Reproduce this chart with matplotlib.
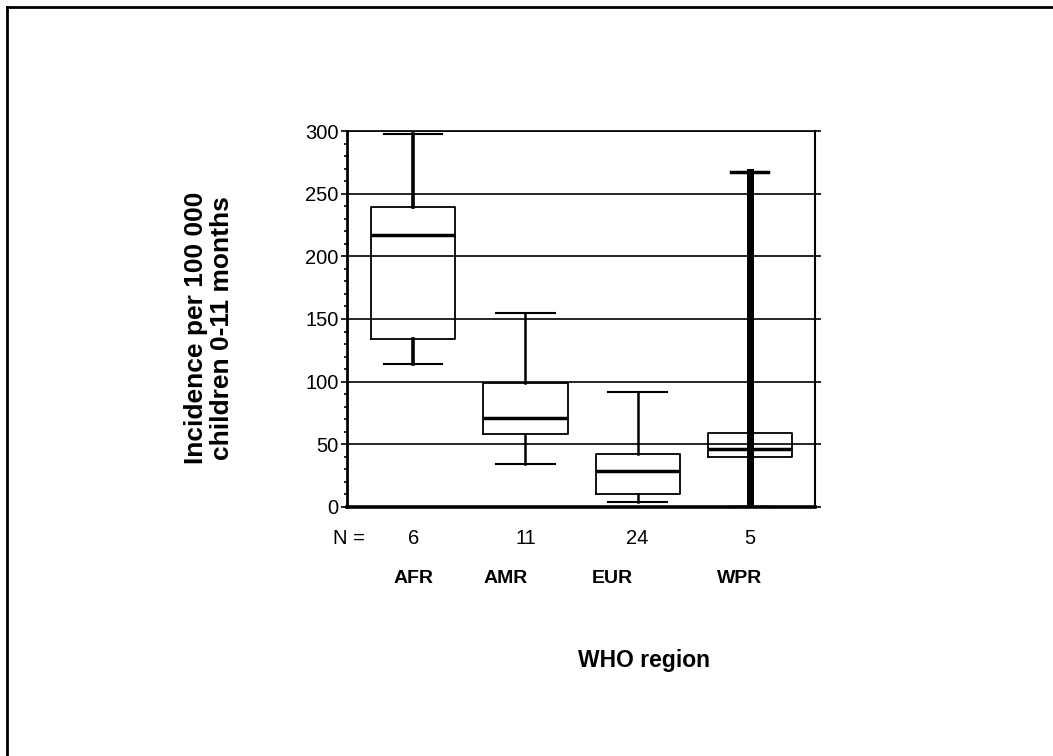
import matplotlib.pyplot as plt
import matplotlib.transforms as mtransforms
from matplotlib.ticker import MultipleLocator

plt.rcParams['font.family'] = ['Liberation Sans', 'DejaVu Sans']

regions = ["AFR", "AMR", "EUR", "WPR"]
n_counts = [6, 11, 24, 5]
whislo = [114, 34, 4, 0]
q1 = [134, 58, 10, 40]
med = [217, 71, 29, 46]
q3 = [239, 99, 42, 59]
whishi = [298, 155, 92, 267]

stats = []
for i in range(len(regions)):
    stats.append(dict(label=regions[i], whislo=whislo[i], q1=q1[i], med=med[i],
                      q3=q3[i], whishi=whishi[i], fliers=[]))

fig = plt.figure(figsize=(10.53, 7.56), dpi=100)
ax = fig.add_axes([0.3295, 0.3294, 0.4445, 0.4973])

pos = [1, 2, 3, 4]
bp = ax.bxp(stats, positions=pos, widths=0.75, capwidths=[0.52, 0.52, 0.52, 0.33],
            showfliers=False, patch_artist=False,
            boxprops=dict(color='black', linewidth=1.3),
            medianprops=dict(color='black', linewidth=2.5),
            whiskerprops=dict(color='black', linewidth=1.8),
            capprops=dict(color='black', linewidth=1.5))
for w in bp['whiskers'][0:2]:
    w.set_linewidth(2.6)
# WPR whisker is drawn straight through its box in the original
for w in bp['whiskers'][6:8]:
    w.set_linewidth(5)
    w.set_zorder(5)
    w.set_ydata([0, 267])
for c in bp['caps'][6:8]:
    c.set_linewidth(2.5)

ax.set_xlim(0.41, 4.58)
ax.set_ylim(0, 300)
ax.yaxis.set_major_locator(MultipleLocator(50))
ax.yaxis.set_minor_locator(MultipleLocator(10))
ax.grid(axis='y', color='black', linewidth=1.2)
ax.set_axisbelow(True)

ax.set_xticks([])
ax.tick_params(axis='y', which='major', length=4, width=1.2, labelsize=14.5, pad=2,
               right=True)
ax.tick_params(axis='y', which='minor', length=2.5, width=1.2)
ax.spines['left'].set_linewidth(2)
ax.spines['bottom'].set_linewidth(2.6)
ax.spines['right'].set_linewidth(1.5)
ax.spines['top'].set_linewidth(1.2)

# the "0" label sits a little higher than its tick
fig.canvas.draw()
lbl0 = ax.get_yticklabels()[0]
lbl0.set_transform(lbl0.get_transform() +
                   mtransforms.ScaledTranslation(0, 9 / 100, fig.dpi_scale_trans))

# N counts and region names under the boxes
ax.text(-0.03, -0.085, "N =", transform=ax.transAxes, fontsize=14.5, ha='left', va='center')
for p, n in zip(pos, n_counts):
    ax.text(p, -0.085, str(n), transform=ax.get_xaxis_transform(), fontsize=14.5,
            ha='center', va='center')
name_x = [1.0, 1.82, 2.77, 3.91]
for x, r in zip(name_x, regions):
    ax.text(x, -0.19, r, transform=ax.get_xaxis_transform(), fontsize=14,
            fontweight='bold', ha='center', va='center')

fig.text(644 / 1053, 1 - 661 / 756, "WHO region", fontsize=16.5, fontweight='bold',
         ha='center', va='center')
fig.text(209 / 1053, 1 - 328 / 756, "Incidence per 100 000\nchildren 0-11 months",
         fontsize=19, fontweight='bold', ha='center', va='center', rotation=90,
         linespacing=1.15)

# border on the top and left edge of the page
fig.add_artist(plt.Line2D([7 / 1053, 1], [1 - 7 / 756, 1 - 7 / 756],
                          transform=fig.transFigure, color='black', linewidth=2))
fig.add_artist(plt.Line2D([7 / 1053, 7 / 1053], [0, 1 - 7 / 756],
                          transform=fig.transFigure, color='black', linewidth=2))

fig.savefig("out.png", dpi=100)
